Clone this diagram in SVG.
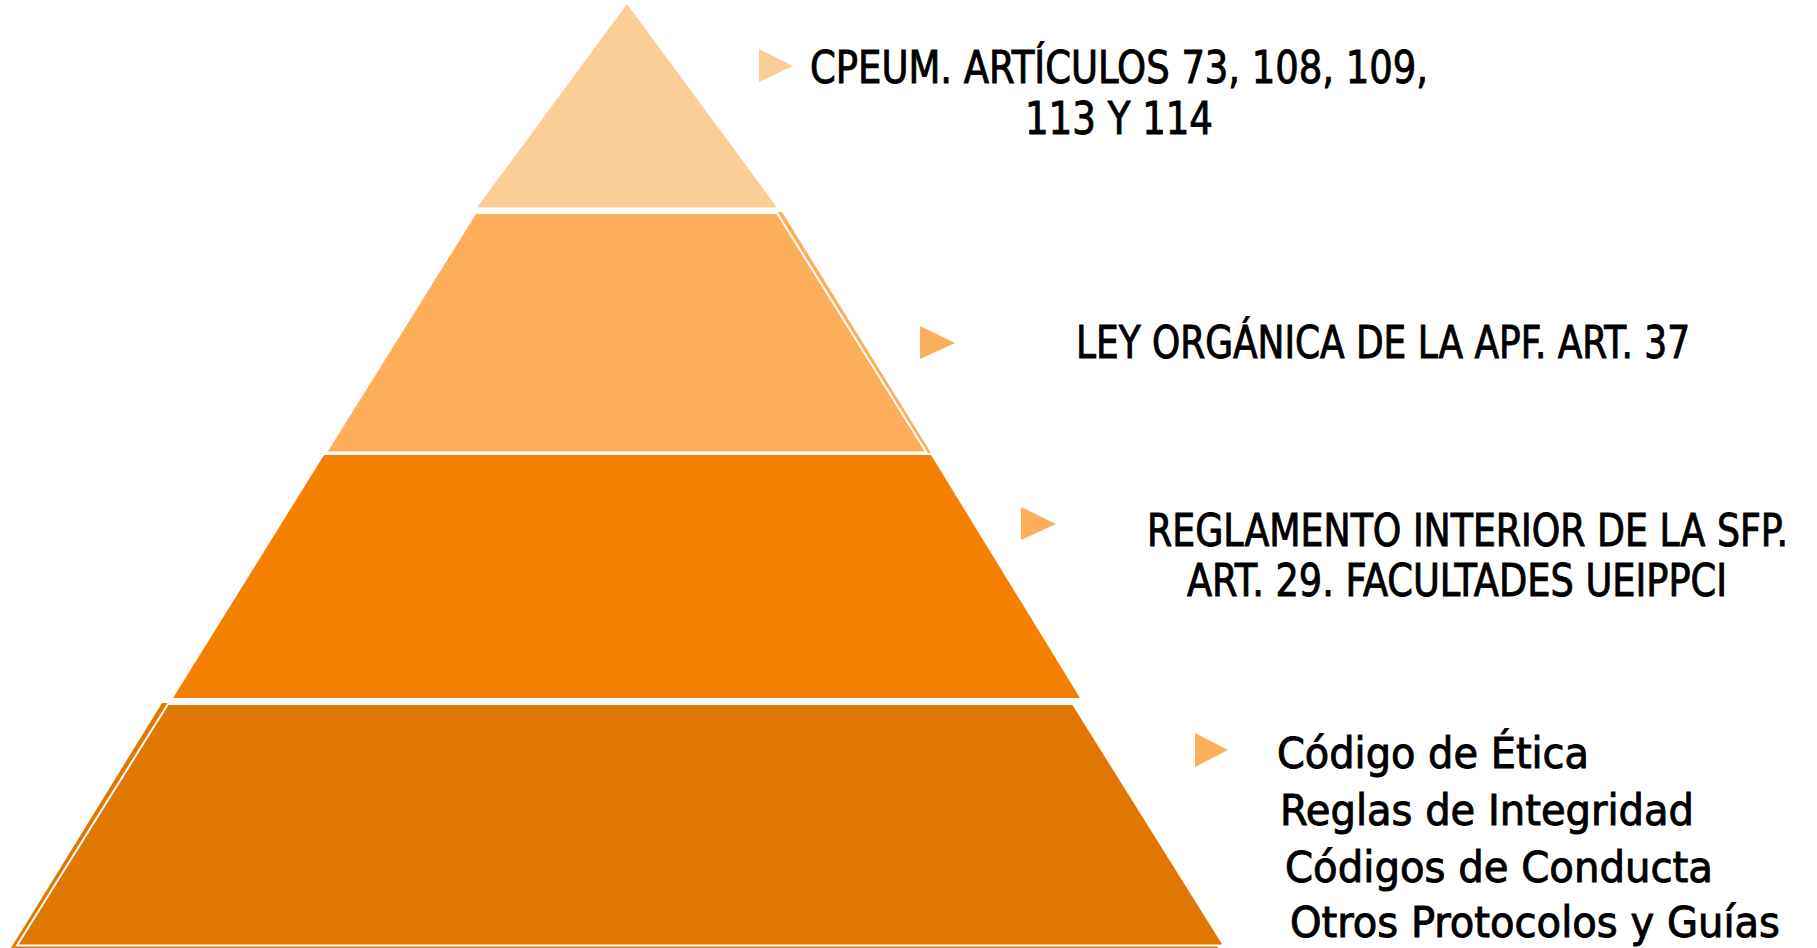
<svg xmlns="http://www.w3.org/2000/svg" width="1817" height="948" viewBox="0 0 1817 948">
  <style>
    .t1 { fill: #FBCD97; }
    .t2 { fill: #FCAE5A; }
    .t3 { fill: #F58000; }
    .t4 { fill: #DF7700; }
    .edge { stroke: #FFFFFF; stroke-width: 2; stroke-linejoin: miter; }
    .mk1 { fill: #FBCD97; }
    .mk { fill: #FCAE5A; }
    .lbl { font-family: "Liberation Sans Narrow", "DejaVu Sans Condensed", "Liberation Sans", sans-serif; font-size: 44px; fill: #000000; stroke: #000000; stroke-width: 0.9; }
    .lst { font-family: "Liberation Sans Narrow", "DejaVu Sans Condensed", "Liberation Sans", sans-serif; font-size: 43px; fill: #000000; stroke: #000000; stroke-width: 0.9; }
  </style>
  <rect width="1817" height="948" fill="#FFFFFF"/>

  <g id="tier1">
    <polygon class="t1" points="627,4 777,207.5 477,207.5"/>
  </g>
  <g id="tier2">
    <polygon class="t2" points="481,212 782,212 931,453 331,453"/>
    <polygon class="t2 edge" points="475.5,213 777,213 926.5,452.5 326,452.5"/>
  </g>
  <g id="tier3">
    <polygon class="t3" points="324,455 931,455 1080,698 173,698"/>
  </g>
  <g id="tier4">
    <polygon class="t4" points="162,703 1068,703 1218,948 11,948"/>
    <polygon class="t4 edge" points="168,704 1073,704 1224,945.5 17,945.5"/>
  </g>

  <g id="label1">
    <polygon class="mk1" points="759,49 793,66 759,82"/>
    <text class="lbl" x="810" y="83" textLength="618" lengthAdjust="spacingAndGlyphs">CPEUM. ARTÍCULOS 73, 108, 109,</text>
    <text class="lbl" x="1025" y="134" textLength="188" lengthAdjust="spacingAndGlyphs">113 Y 114</text>
  </g>
  <g id="label2">
    <polygon class="mk" points="920,326 955,343 920,359"/>
    <text class="lbl" x="1076" y="358" textLength="614" lengthAdjust="spacingAndGlyphs">LEY ORGÁNICA DE LA APF. ART. 37</text>
  </g>
  <g id="label3">
    <polygon class="mk" points="1021,507 1056,524 1021,540"/>
    <text class="lbl" x="1147" y="546" textLength="641" lengthAdjust="spacingAndGlyphs">REGLAMENTO INTERIOR DE LA SFP.</text>
    <text class="lbl" x="1187" y="596" textLength="540" lengthAdjust="spacingAndGlyphs">ART. 29. FACULTADES UEIPPCI</text>
  </g>
  <g id="label4">
    <polygon class="mk" points="1195,733 1228,750 1195,767"/>
    <text class="lst" x="1277" y="768" textLength="312" lengthAdjust="spacingAndGlyphs">Código de Ética</text>
    <text class="lst" x="1280" y="825" textLength="414" lengthAdjust="spacingAndGlyphs">Reglas de Integridad</text>
    <text class="lst" x="1285" y="882" textLength="428" lengthAdjust="spacingAndGlyphs">Códigos de Conducta</text>
    <text class="lst" x="1290" y="937" textLength="490" lengthAdjust="spacingAndGlyphs">Otros Protocolos y Guías</text>
  </g>
</svg>
